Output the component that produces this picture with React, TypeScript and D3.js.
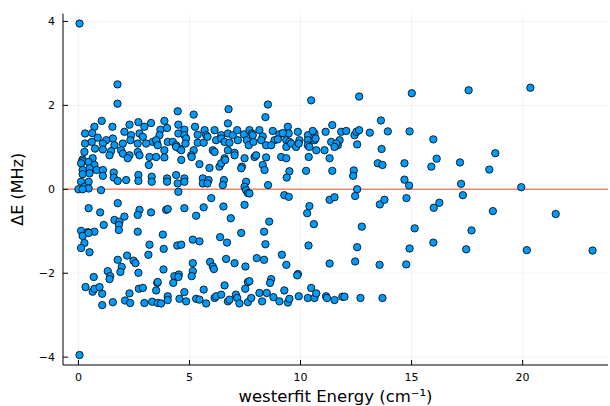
import React from "react";
import * as d3 from "d3";

// westerfit energy (cm⁻¹) of each assigned line
const energy: number[] = [
  0.05, 0.05, 1.76, 1.76, 6.76, 8.53, 10.48, 12.64, 15.01, 17.57, 20.35, 4.47, 5.19, 8.42, 13.62,
  1.05, 0.72, 1.53, 2.30, 2.70, 3.27, 0.30, 0.62, 0.87, 1.55, 2.07, 2.37, 2.75, 2.97, 2.90, 3.35, 1.25,
  0.30, 0.60, 1.10, 1.62, 2.0, 2.34, 2.67, 3.05, 3.53, 0.27, 0.75, 1.10, 1.47, 1.92, 2.0, 2.30, 2.67,
  3.2, 3.5, 0.19, 0.64,
  0.17, 0.12, 0.46, 0.72, 0.82, 0.5, 0.5, 0.19, 0.19, 1.10, 1.10, 1.40, 1.59, 1.59, 1.77, 2.15, 2.22,
  2.70, 2.70, 2.75, 3.17, 3.30, 3.30, 0.12, 0.27, 0.46, 0.46, 0.0, 0.19, 1.02, 0.46, 0.98, 1.77, 1.62,
  1.85, 1.82, 2.07, 1.14, 2.75, 2.67, 3.27, 0.12, 0.42, 0.72, 1.82, 2.67,
  0.19, 0.46, 0.27, 0.12, 0.50, 3.2, 3.15, 1.77, 2.19, 2.48, 2.57, 1.95, 1.89, 1.32, 1.43, 1.40, 2.70,
  0.69, 0.32, 0.64, 0.72, 0.95, 1.07, 2.30, 2.72, 2.90, 3.55, 1.07, 1.55, 2.10, 2.33, 2.97, 3.32, 3.57,
  3.87, 4.50, 5.25, 6.73, 3.69, 3.99, 3.65, 4.50, 4.77, 4.77, 5.37, 5.68, 5.75, 6.13, 6.43, 6.73, 6.95,
  7.15, 7.45, 7.70, 7.81, 3.50, 3.57, 4.02, 4.25, 4.40, 4.55, 4.85, 4.82, 5.37, 5.64, 5.81, 6.20, 6.43,
  6.58, 6.80, 7.18, 7.58, 7.67, 7.88, 3.87, 4.40, 4.63, 5.19, 5.08, 6.05, 6.13, 6.73, 7.03, 7.48, 7.93,
  3.87, 4.63, 5.10, 6.58,
  5.45, 5.90, 6.35, 6.43, 6.61, 7.03, 7.36, 7.33, 3.99, 3.99, 4.40, 4.47, 4.77, 4.77, 4.50, 5.60, 5.60,
  5.86, 5.81, 6.55, 6.50, 7.55, 7.48, 7.55, 7.63, 5.98, 3.95, 4.02, 4.77, 5.64, 5.30, 6.53, 6.86, 7.48,
  3.80, 7.33,
  3.84, 4.45, 4.63, 5.15, 5.45, 6.38, 6.69, 5.15, 5.15, 5.10, 5.93, 6.05, 6.10, 6.65, 7.03, 7.52, 3.83,
  4.32, 4.52, 4.50, 4.27, 3.57, 3.50, 5.64, 6.58, 7.63, 7.51, 4.77, 4.02, 4.02, 4.55, 4.85, 5.30, 5.45,
  5.75, 6.13, 6.20, 6.43, 6.73, 6.80, 7.09, 7.15, 7.25, 7.63, 7.78, 3.72,
  9.43, 9.47, 8.15, 7.85, 8.75, 9.05, 9.20, 9.88, 10.33, 10.63, 10.55, 11.13, 11.43, 11.83, 12.06, 8.30,
  8.23, 8.83, 8.98, 9.36, 9.50, 9.95, 10.33, 10.63, 10.68, 11.38, 11.76, 11.68, 8.45, 8.68, 9.36, 9.58,
  9.80, 9.92, 10.33, 10.40, 10.71, 11.08, 11.61, 11.53, 8.0, 8.45, 9.13, 9.36, 10.37, 11.31,
  8.30, 8.38, 9.50, 9.38, 10.25, 11.43, 8.54, 7.70, 9.27, 9.47, 10.40, 10.30, 11.31, 11.53, 10.60, 8.59,
  8.36,
  8.42, 10.36, 8.03, 8.36, 9.16, 9.36, 11.31, 9.88, 9.85, 8.68, 8.63, 7.70, 9.27, 10.48, 8.15, 8.48,
  8.78, 9.05, 9.43, 9.50, 8.27, 9.92, 10.33, 10.63, 10.71, 11.15, 11.19, 11.53, 11.88,
  12.43, 12.52, 12.64, 13.12, 13.93, 14.91, 12.55, 13.65, 15.98, 13.48, 13.69, 14.68, 16.13, 15.89,
  17.18, 12.40, 12.37, 14.68, 14.89, 17.23, 12.55, 12.46, 13.57, 13.78, 14.77, 16.0, 16.25, 17.31,
  12.76, 15.14, 17.7, 12.55, 14.91, 15.98, 17.46, 12.46, 13.56, 14.76, 11.98, 12.7, 13.69,
  18.77, 18.5, 19.94, 18.66, 21.49, 20.19, 23.15,
];

// observed minus calculated frequency (MHz), same order as energy
const deltaE: number[] = [
  3.95, -3.95, 2.50, 2.04, 1.91, 2.02, 2.12, 2.21, 2.29, 2.36, 2.42, 1.86, 1.78, 1.72, 1.64,
  1.63, 1.49, 1.49, 1.54, 1.60, 1.58, 1.33, 1.34, 1.23, 1.21, 1.37, 1.29, 1.33, 1.49, 1.25, 1.13, 1.17,
  1.09, 1.13, 1.09, 1.05, 1.09, 1.17, 1.09, 1.09, 1.13, 0.89, 0.97, 0.95, 0.91, 0.93, 0.85, 0.81, 0.89,
  0.77, 0.77, 0.71, 0.74,
  0.67, 0.62, 0.65, 0.58, 0.46, 0.50, 0.38, 0.46, 0.36, 0.46, 0.32, 0.81, 0.40, 0.28, 0.20, 0.22, 0.74,
  0.34, 0.20, 0.81, 0.58, 0.30, 0.18, 0.18, 0.06, 0.18, 0.02, 0.0, 0.0, -0.02, -0.45, -0.55, -0.33, -0.73,
  -0.77, -0.85, -0.65, -0.85, -0.49, -0.61, -0.55, -0.99, -1.02, -1.01, -0.97, -1.01,
  -1.11, -1.04, -1.28, -1.40, -1.50, -1.32, -1.56, -1.68, -1.58, -1.70, -1.76, -1.85, -1.97, -1.95, -2.07,
  -2.14, -1.99, -2.09, -2.33, -2.44, -2.37, -2.33, -2.49, -2.48, -2.37, -2.35, -2.23, -2.76, -2.69, -2.65,
  -2.71, -2.71, -2.68, -2.71,
  1.63, 1.54, 1.49, 1.57, 1.42, 1.46, 1.29, 1.33, 1.42, 1.29, 1.30, 1.41, 1.29, 1.41, 1.29, 1.33, 1.29,
  1.41, 1.31, 1.41, 1.33, 1.17, 1.05, 1.13, 1.13, 1.05, 0.97, 1.21, 1.09, 1.11, 1.11, 1.25, 1.17, 1.21,
  1.13, 1.11, 1.17, 1.17, 1.05, 1.13, 0.93, 1.01, 0.93, 0.93, 0.81, 0.93, 0.89, 0.93, 0.87, 0.74, 0.77,
  0.76, 0.70, 0.77, 0.74,
  0.60, 0.51, 0.54, 0.62, 0.70, 0.81, 0.54, 0.50, 0.26, 0.18, 0.34, 0.14, 0.26, 0.18, -0.06, 0.26, 0.14,
  0.22, 0.14, 0.22, 0.10, 0.18, 0.06, -0.02, -0.09, -0.21, -0.49, -0.47, -0.45, -0.43, -0.63, -0.41, -0.69,
  -0.37, -1.08, -1.04,
  -1.42, -1.34, -1.32, -1.20, -1.24, -1.14, -1.27, -1.76, -1.95, -2.07, -1.73, -1.84, -1.90, -1.66, -1.76,
  -1.84, -1.91, -2.07, -2.03, -2.09, -2.23, -2.21, -2.41, -2.39, -2.29, -2.21, -2.37, -2.45, -2.55, -2.64,
  -2.61, -2.67, -2.61, -2.63, -2.72, -2.59, -2.55, -2.51, -2.67, -2.63, -2.51, -2.59, -2.72, -2.69, -2.59,
  -2.72,
  1.49, 1.33, 1.41, 1.29, 1.39, 1.31, 1.34, 1.37, 1.29, 1.33, 1.39, 1.37, 1.53, 1.37, 1.39, 1.26,
  1.17, 1.17, 1.19, 1.17, 1.13, 1.17, 1.17, 1.17, 1.21, 1.13, 1.17, 1.05, 1.05, 1.05, 1.01, 1.09,
  1.01, 1.09, 1.05, 1.01, 0.93, 0.93, 1.09, 1.01, 0.81, 0.76, 0.77, 0.74, 0.77, 0.74,
  0.58, 0.46, 0.43, 0.28, 0.44, 0.44, 0.10, -0.10, -0.14, -0.18, -0.40, -0.57, -0.25, -0.19, -0.83, -0.77,
  -1.01,
  -1.31, -1.34, -1.64, -1.68, -1.56, -1.80, -1.77, -2.02, -2.05, -2.14, -2.23, -2.19, -2.41, -2.35, -2.47,
  -2.47, -2.57, -2.67, -2.70, -2.61, -2.67, -2.55, -2.59, -2.59, -2.48, -2.55, -2.59, -2.64, -2.56,
  1.29, 1.37, 1.41, 1.35, 1.38, 1.38, 1.07, 0.96, 1.19, 0.62, 0.58, 0.62, 0.73, 0.54,
  0.64, 0.45, 0.32, 0.23, 0.09, 0.13, 0.0, -0.16, -0.36, -0.25, -0.21, -0.44, -0.32, -0.14,
  -0.89, -0.93, -0.98, -1.38, -1.41, -1.27, -1.43, -1.72, -1.80, -1.79, -2.56, -2.59, -2.59,
  0.86, 0.47, 0.05, -0.52, -0.59, -1.45, -1.46,
];

const xTicks = [0, 5, 10, 15, 20];
const yTicks = [-4, -2, 0, 2, 4];
const xTitle = "westerfit Energy (cm⁻¹)";
const yTitle = "ΔE (MHz)";

const W = 610;
const H = 406;
const plot = { left: 63, right: 608, top: 13.6, bottom: 365 };

const fmt = (v: number) => (v < 0 ? "\u2212" + Math.abs(v) : String(v));

export default function App() {
  const xMin = d3.min(energy)!;
  const xMax = d3.max(energy)!;
  const xPad = (xMax - xMin) * 0.03;
  const yMin = d3.min(deltaE)!;
  const yMax = d3.max(deltaE)!;
  const yPad = (yMax - yMin) * 0.03;

  const x = d3.scaleLinear().domain([xMin - xPad, xMax + xPad]).range([plot.left, plot.right]);
  const y = d3.scaleLinear().domain([yMin - yPad, yMax + yPad]).range([plot.bottom, plot.top]);

  const points = energy.map((e, i) => ({ e, d: deltaE[i] }));
  const font = "'DejaVu Sans', sans-serif";

  return (
    <svg
      width={W}
      height={H}
      viewBox={`0 0 ${W} ${H}`}
      style={{ position: "absolute", left: 0, top: 0, background: "#fff" }}
    >
      <rect x={0} y={0} width={W} height={H} fill="#fff" />
      {/* grid */}
      <g stroke="#000" strokeOpacity={0.1} strokeWidth={0.5}>
        {xTicks.map((t) => (
          <line key={`gx${t}`} x1={x(t)} x2={x(t)} y1={plot.top} y2={plot.bottom} />
        ))}
        {yTicks.map((t) => (
          <line key={`gy${t}`} x1={plot.left} x2={plot.right} y1={y(t)} y2={y(t)} />
        ))}
      </g>
      {/* zero reference */}
      <line
        x1={plot.left}
        x2={plot.right}
        y1={y(0)}
        y2={y(0)}
        stroke="#e26f46"
        strokeWidth={1.5}
        strokeOpacity={0.8}
      />
      {/* residuals */}
      <g fill="#009af9" stroke="#000" strokeWidth={0.8}>
        {points.map((p, i) => (
          <circle key={i} cx={x(p.e)} cy={y(p.d)} r={3.7} />
        ))}
      </g>
      {/* axes */}
      <g stroke="#000" strokeWidth={1}>
        <line x1={plot.left} x2={plot.left} y1={plot.top} y2={plot.bottom} />
        <line x1={plot.left} x2={plot.right} y1={plot.bottom} y2={plot.bottom} />
        {xTicks.map((t) => (
          <line key={`tx${t}`} x1={x(t)} x2={x(t)} y1={plot.bottom} y2={plot.bottom - 5} />
        ))}
        {yTicks.map((t) => (
          <line key={`ty${t}`} x1={plot.left} x2={plot.left + 5} y1={y(t)} y2={y(t)} />
        ))}
      </g>
      <g fontFamily={font} fontSize={11} fill="#000">
        {xTicks.map((t) => (
          <text key={`lx${t}`} x={x(t)} y={plot.bottom + 16} textAnchor="middle">
            {fmt(t)}
          </text>
        ))}
        {yTicks.map((t) => (
          <text key={`ly${t}`} x={plot.left - 8} y={y(t)} dy="0.35em" textAnchor="end">
            {fmt(t)}
          </text>
        ))}
      </g>
      <text
        x={(plot.left + plot.right) / 2}
        y={H - 4}
        textAnchor="middle"
        fontFamily={font}
        fontSize={16.5}
      >
        {xTitle}
      </text>
      <text
        transform={`translate(${23},${(plot.top + plot.bottom) / 2}) rotate(-90)`}
        textAnchor="middle"
        fontFamily={font}
        fontSize={16}
      >
        {yTitle}
      </text>
    </svg>
  );
}
